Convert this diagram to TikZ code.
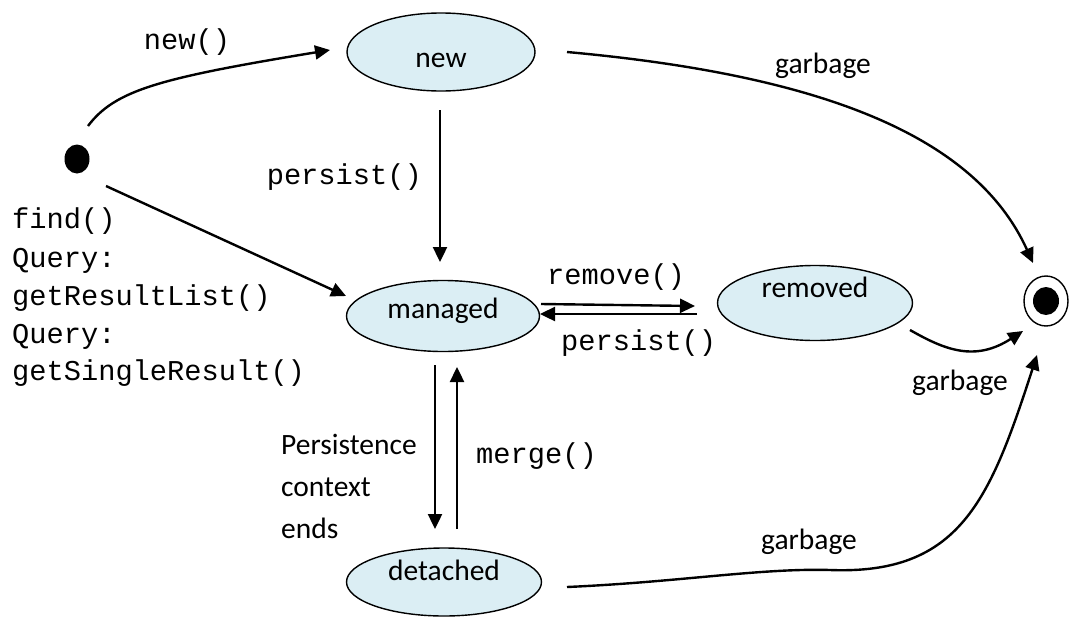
\documentclass[tikz,border=0pt]{standalone}
\usepackage{fontspec}
\setmainfont{Carlito}
\newfontfamily\monofam{Liberation Mono}
\usetikzlibrary{arrows.meta,calc,shapes.geometric}
\definecolor{statefill}{HTML}{DBEEF4}
\tikzset{
  state/.style={ellipse, draw=black, line width=1.4pt, fill=statefill, inner sep=0pt,
    font=\fontsize{29.5}{35}\selectfont},
  conn/.style={line width=2.4pt, -{Triangle[length=15pt,width=14pt]}},
  lbl/.style={font=\fontsize{29.5}{35}\selectfont, inner sep=0pt},
  code/.style={font=\monofam\fontsize{28.7}{34}\selectfont, inner sep=0pt},
}
\begin{document}
\begin{tikzpicture}[x=1pt,y=-1pt]
\useasboundingbox (0,0) rectangle (1070,616);
% states
\node[state, minimum width=188pt, minimum height=78pt, text height=36pt, text depth=6pt] (new) at (441,52) {new};
\node[state, minimum width=193pt, minimum height=71pt, text height=10pt, text depth=6pt] (managed) at (443,316) {managed};
\node[state, minimum width=195pt, minimum height=75pt, text height=8pt, text depth=20pt] (removed) at (815,303) {removed};
\node[state, minimum width=195pt, minimum height=68pt, text height=16pt, text depth=20pt] (detached) at (444,582) {detached};
\node[ellipse, fill=black, minimum width=25pt, minimum height=29pt, inner sep=0pt] (start) at (77,159) {};
\node[ellipse, draw=black, line width=1.4pt, minimum width=44pt, minimum height=50pt, inner sep=0pt] (end) at (1046,301) {};
\node[ellipse, fill=black, minimum width=26pt, minimum height=28pt, inner sep=0pt] (enddot) at (end.center) {};
% connectors
\draw[conn] ($(start)+(11,-33)$) .. controls (115,90) and (160,78) .. ($(new)+(-111,-2)$);
\draw[conn] ($(start)+(29,27)$) -- ($(managed)+(-97,-20)$);
\draw[conn] ($(new)+(-1,58)$) -- ($(managed)+(-3,-54)$);
\draw[conn] ($(new)+(126,0)$) .. controls (820,75) and (975,135) .. ($(end)+(-13,-38)$);
\draw[conn] ($(managed)+(98,-12)$) -- ($(removed)+(-120,3)$);
\draw[conn] ($(removed)+(-118,11)$) -- ($(managed)+(97,-2)$);
\draw[conn] ($(removed)+(95,27)$) .. controls (945,350) and (975,362) .. ($(end)+(-23,30)$);
\draw[conn] ($(detached)+(123,5)$) .. controls (680,582) and (760,568) .. (830,570)
   .. controls (960,575) and (990,500) .. ($(end)+(-9,54)$);
\draw[conn] ($(managed)+(-8,49)$) -- ($(detached)+(-9,-53)$);
\draw[conn] ($(detached)+(13,-53)$) -- ($(managed)+(14,51)$);
% labels
\node[code, anchor=base] (lnew) at (187,49) {new()};
\node[code, anchor=base east] (lpersist1) at (422,184) {persist()};
\node[lbl, anchor=base] (lgarb1) at (823,73) {garbage};
\node[code, anchor=base west] (lremove) at (547,284) {remove()};
\node[code, anchor=base west] (lpersist2) at (561,350) {persist()};
\node[lbl, anchor=base] (lgarb2) at (960,390) {garbage};
\node[lbl, anchor=base] (lgarb3) at (809,549) {garbage};
\node[code, anchor=base west] (lmerge) at (476,463) {merge()};
\node[lbl, anchor=base west] (lpc1) at (281,454) {Persistence};
\node[lbl, anchor=base west] (lpc2) at (281,496) {context};
\node[lbl, anchor=base west] (lpc3) at (281,538) {ends};
\node[code, anchor=base west] (lf1) at (12,228) {find()};
\node[code, anchor=base west] (lf2) at (12,267) {Query:};
\node[code, anchor=base west] (lf3) at (12,305) {getResultList()};
\node[code, anchor=base west] (lf4) at (12,343) {Query:};
\node[code, anchor=base west] (lf5) at (12,380) {getSingleResult()};
\end{tikzpicture}
\end{document}
